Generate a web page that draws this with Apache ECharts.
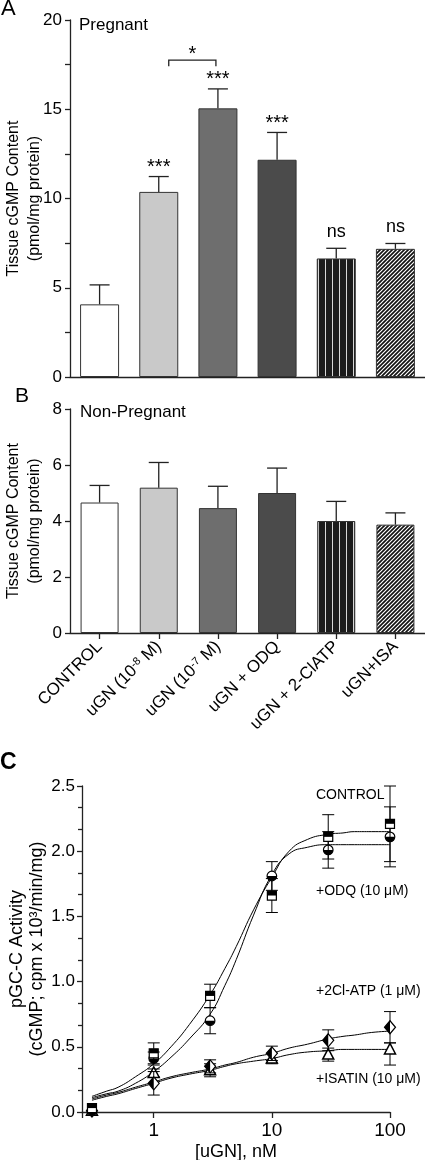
<!DOCTYPE html>
<html><head><meta charset="utf-8">
<script src="https://cdn.jsdelivr.net/npm/echarts@6/dist/echarts.min.js"></script>
<style>html,body{margin:0;padding:0;background:#fff}#c{width:425px;height:1160px}</style>
</head><body><div id="c"></div>
<script>
// ---------- DATA ----------
const categories = ['CONTROL', 'uGN (10{sup|-8} M)', 'uGN (10{sup|-7} M)', 'uGN + ODQ', 'uGN + 2-ClATP', 'uGN+ISA'];
const pregnantMean = [4.07, 10.37, 15.05, 12.17, 6.64, 7.18];
const pregnantSem  = [1.09, 0.86, 1.09, 1.53, 0.57, 0.30];
const pregnantSig  = ['', '***', '***', '***', 'ns', 'ns'];
const pregnantBracket = [[1, 2, 17.75, '*']];
const nonPregMean  = [4.66, 5.19, 4.46, 5.00, 4.00, 3.87];
const nonPregSem   = [0.61, 0.90, 0.78, 0.89, 0.70, 0.42];

const doseNM = [0.3, 1, 3, 10, 30, 100];
const controlY    = [0.03, 0.45, 0.89, 1.66, 2.11, 2.21];
const controlErr  = [0, 0.08, 0.09, 0.13, 0.17, 0.29];
const odqY        = [0.01, 0.41, 0.70, 1.81, 2.01, 2.11];
const odqErr      = [0, 0.05, 0.10, 0.11, 0.14, 0.23];
const clatpY      = [0.01, 0.22, 0.35, 0.45, 0.55, 0.65];
const clatpErr    = [0, 0.09, 0.05, 0.055, 0.08, 0.12];
const isatinY     = [0.01, 0.30, 0.32, 0.41, 0.44, 0.48];
const isatinErrUp = [0, 0.03, 0.05, 0.04, 0.05, 0.05];
const isatinErrDn = [0, 0.03, 0.05, 0.04, 0.05, 0.12];

const curveX      = [0.3, 0.4, 0.5, 0.7, 1, 1.4, 2, 3, 4, 5, 7, 10, 14, 20, 30, 40, 50, 70, 100];
const controlFit  = [0.12, 0.16, 0.19, 0.27, 0.37, 0.50, 0.67, 0.90, 1.10, 1.27, 1.55, 1.80, 2.00, 2.09, 2.13, 2.14, 2.15, 2.15, 2.15];
const odqFit      = [0.11, 0.14, 0.16, 0.22, 0.31, 0.42, 0.56, 0.75, 0.97, 1.17, 1.51, 1.82, 1.98, 2.03, 2.05, 2.05, 2.05, 2.05, 2.05];
const clatpFit    = [0.10, 0.13, 0.15, 0.19, 0.23, 0.27, 0.30, 0.33, 0.36, 0.38, 0.42, 0.45, 0.49, 0.52, 0.56, 0.58, 0.59, 0.61, 0.62];
const isatinFit   = [0.09, 0.12, 0.14, 0.18, 0.22, 0.26, 0.29, 0.32, 0.35, 0.37, 0.39, 0.41, 0.44, 0.46, 0.47, 0.48, 0.48, 0.48, 0.48];

const xTicksC = [1, 10, 100];

// ---------- STYLE ----------
const FONT = '"Liberation Sans", Arial, sans-serif';
const AX = '#222';
function makeStripe() {
  const c = document.createElement('canvas'); c.width = 7; c.height = 8;
  const g = c.getContext('2d'); g.fillStyle = '#1c1c1c'; g.fillRect(0, 0, 7, 8);
  g.fillStyle = '#d8d8d8'; g.fillRect(3, 0, 1, 8); return c;
}
function makeHatch() {
  const c = document.createElement('canvas'); c.width = 4; c.height = 4;
  const g = c.getContext('2d'); g.fillStyle = '#111'; g.fillRect(0, 0, 4, 4);
  g.strokeStyle = '#fff'; g.lineWidth = 1.2; g.beginPath();
  g.moveTo(-1, 5); g.lineTo(5, -1); g.moveTo(-1, 1); g.lineTo(1, -1); g.moveTo(3, 5); g.lineTo(5, 3);
  g.stroke(); return c;
}
const barFills = ['#ffffff', '#c9c9c9', '#6e6e6e', '#4b4b4b', {image: makeStripe(), repeat: 'repeat'}, {image: makeHatch(), repeat: 'repeat'}];

function barData(vals) {
  return vals.map((v, i) => ({value: v, itemStyle: {color: barFills[i], borderColor: '#333', borderWidth: 1}}));
}
function errData(vals, errs) { return vals.map((v, i) => [i, v, errs[i]]); }

function barErrRender(labels) {
  return function (params, api) {
    const i = api.value(0), v = api.value(1), e = api.value(2);
    const p0 = api.coord([i, v]), p1 = api.coord([i, v + e]);
    const st = {stroke: '#222', lineWidth: 1.3};
    const ch = [
      {type: 'line', shape: {x1: p0[0], y1: p0[1], x2: p1[0], y2: p1[1]}, style: st},
      {type: 'line', shape: {x1: p1[0] - 10, y1: p1[1], x2: p1[0] + 10, y2: p1[1]}, style: st}
    ];
    const t = labels ? labels[params.dataIndex] : '';
    if (t) {
      const isStar = t.indexOf('*') >= 0;
      ch.push({type: 'text', style: {x: p1[0], y: p1[1] + (isStar ? 1 : -7), text: t,
        fontSize: isStar ? 20 : 18, fontFamily: FONT, fill: '#000', align: 'center', verticalAlign: 'bottom', lineHeight: isStar ? 20 : 18}});
    }
    return {type: 'group', children: ch};
  };
}
function bracketRender(params, api) {
  const a = api.coord([api.value(0), api.value(2)]), b = api.coord([api.value(1), api.value(2)]);
  const x1 = a[0] + 10, x2 = b[0] - 2, y = a[1];
  return {type: 'group', children: [
    {type: 'polyline', shape: {points: [[x1, y + 6], [x1, y], [x2, y], [x2, y + 6]]}, style: {stroke: '#222', lineWidth: 1.3, fill: null}},
    {type: 'text', style: {x: (x1 + x2) / 2, y: y + 4, text: pregnantBracket[params.dataIndex][3], fontSize: 20, lineHeight: 20,
      fontFamily: FONT, fill: '#000', align: 'center', verticalAlign: 'bottom'}}
  ]};
}

function ptData(ys, up, dn) { return doseNM.map((x, i) => [x, ys[i], up[i], dn[i]]); }
function markerRender(kind) {
  return function (params, api) {
    const x = api.value(0), y = api.value(1), eu = api.value(2), ed = api.value(3);
    const p = api.coord([x, y]);
    const ch = [];
    const st = {stroke: '#000', lineWidth: 1};
    if (eu > 0 || ed > 0) {
      const pu = api.coord([x, y + eu]), pd = api.coord([x, y - ed]);
      ch.push({type: 'line', shape: {x1: p[0], y1: pu[1], x2: p[0], y2: pd[1]}, style: st});
      ch.push({type: 'line', shape: {x1: p[0] - 6, y1: pu[1], x2: p[0] + 6, y2: pu[1]}, style: st});
      ch.push({type: 'line', shape: {x1: p[0] - 6, y1: pd[1], x2: p[0] + 6, y2: pd[1]}, style: st});
    }
    const cx = p[0], cy = p[1];
    const open = {fill: '#fff', stroke: '#000', lineWidth: 1.2};
    const full = {fill: '#000'};
    if (kind === 'square') {
      ch.push({type: 'rect', shape: {x: cx - 4.5, y: cy - 4.5, width: 9, height: 9}, style: open});
      ch.push({type: 'rect', shape: {x: cx - 4.5, y: cy - 4.5, width: 9, height: 4.5}, style: full});
    } else if (kind === 'circle') {
      ch.push({type: 'circle', shape: {cx: cx, cy: cy, r: 4.8}, style: open});
      ch.push({type: 'sector', shape: {cx: cx, cy: cy, r0: 0, r: 4.8, startAngle: 0, endAngle: Math.PI, clockwise: true}, style: full});
    } else if (kind === 'diamond') {
      ch.push({type: 'polygon', shape: {points: [[cx, cy - 6.5], [cx + 5.5, cy], [cx, cy + 6.5], [cx - 5.5, cy]]}, style: open});
      ch.push({type: 'polygon', shape: {points: [[cx, cy - 6.5], [cx, cy + 6.5], [cx - 5.5, cy]]}, style: full});
    } else {
      ch.push({type: 'polygon', shape: {points: [[cx, cy - 6], [cx + 5.5, cy + 4.5], [cx - 5.5, cy + 4.5]]}, style: {fill: '#fff', stroke: '#000', lineWidth: 1.5}});
    }
    return {type: 'group', children: ch};
  };
}
function fitSeries(ys) {
  return {type: 'line', xAxisIndex: 2, yAxisIndex: 2, data: curveX.map((x, i) => [x, ys[i]]), smooth: 0.5,
    showSymbol: false, symbol: 'none', lineStyle: {color: '#000', width: 1}, silent: true, z: 2};
}

const labelStyle = {color: '#000', fontFamily: FONT, fontSize: 17};
const nameStyle = {color: '#000', fontFamily: FONT, fontSize: 16, lineHeight: 21};

const option = {
  animation: false,
  backgroundColor: '#fff',
  textStyle: {fontFamily: FONT},
  grid: [
    {left: 70, top: 20, width: 355, height: 357, outerBoundsMode: 'none', containLabel: false},
    {left: 70, top: 409, width: 355, height: 224, outerBoundsMode: 'none', containLabel: false},
    {left: 82, top: 786, width: 308, height: 326, outerBoundsMode: 'none', containLabel: false}
  ],
  xAxis: [
    {type: 'category', gridIndex: 0, data: categories, axisLine: {lineStyle: {color: AX, width: 1.3}},
      axisTick: {show: false}, axisLabel: {show: false}},
    {type: 'category', gridIndex: 1, data: categories, axisLine: {lineStyle: {color: AX, width: 1.3}},
      axisTick: {show: true, alignWithLabel: true, length: 6, lineStyle: {color: AX, width: 1.3}},
      axisLabel: {rotate: 45, interval: 0, margin: 11, color: '#000', fontFamily: FONT, fontSize: 17,
        rich: {sup: {fontSize: 11, verticalAlign: 'top', lineHeight: 12, fontFamily: FONT, color: '#000'}}}},
    {type: 'log', logBase: 10, gridIndex: 2, min: 0.247, max: 100,
      axisLine: {lineStyle: {color: AX, width: 1.3}},
      axisTick: {length: 6, lineStyle: {color: AX, width: 1.3}},
      splitLine: {show: false}, minorTick: {show: false},
      axisLabel: {color: '#000', fontFamily: FONT, fontSize: 19, margin: 9,
        formatter: v => { const r = Math.round(v * 1000) / 1000; return xTicksC.indexOf(r) >= 0 ? String(r) : ''; }},
      name: '[uGN], nM', nameLocation: 'middle', nameGap: 31, nameMoveOverlap: false,
      nameTextStyle: {color: '#000', fontFamily: FONT, fontSize: 18}}
  ],
  yAxis: [
    {type: 'value', gridIndex: 0, min: 0, max: 20, interval: 5,
      axisLine: {show: true, lineStyle: {color: AX, width: 1.3}},
      axisTick: {show: true, length: 5, lineStyle: {color: AX, width: 1.3}},
      minorTick: {show: true, splitNumber: 2, length: 5, lineStyle: {color: AX, width: 1.3}},
      splitLine: {show: false}, axisLabel: Object.assign({margin: 8}, labelStyle),
      name: 'Tissue cGMP Content\n(pmol/mg protein)', nameLocation: 'middle', nameGap: 25, nameMoveOverlap: false, nameTextStyle: nameStyle},
    {type: 'value', gridIndex: 1, min: 0, max: 8, interval: 2,
      axisLine: {show: true, lineStyle: {color: AX, width: 1.3}},
      axisTick: {show: true, length: 5, lineStyle: {color: AX, width: 1.3}},
      splitLine: {show: false}, axisLabel: Object.assign({margin: 8}, labelStyle),
      name: 'Tissue cGMP Content\n(pmol/mg protein)', nameLocation: 'middle', nameGap: 25, nameMoveOverlap: false, nameTextStyle: nameStyle},
    {type: 'value', gridIndex: 2, min: 0, max: 2.5, interval: 0.5,
      axisLine: {show: true, lineStyle: {color: AX, width: 1.3}},
      axisTick: {show: true, length: 5, lineStyle: {color: AX, width: 1.3}},
      minorTick: {show: true, splitNumber: 3, length: 4, lineStyle: {color: AX, width: 1.3}},
      splitLine: {show: false},
      axisLabel: Object.assign({margin: 7, formatter: v => v.toFixed(1)}, labelStyle),
      name: 'pGC-C Activity\n(cGMP; cpm x 10³/min/mg)', nameLocation: 'middle', nameGap: 35, nameMoveOverlap: false,
      nameTextStyle: {color: '#000', fontFamily: FONT, fontSize: 18, lineHeight: 20}}
  ],
  series: [
    {type: 'bar', xAxisIndex: 0, yAxisIndex: 0, data: barData(pregnantMean), barWidth: 39, z: 2},
    {type: 'custom', xAxisIndex: 0, yAxisIndex: 0, data: errData(pregnantMean, pregnantSem), renderItem: barErrRender(pregnantSig), clip: false, z: 3},
    {type: 'custom', xAxisIndex: 0, yAxisIndex: 0, data: pregnantBracket.map(d => [d[0], d[1], d[2]]), renderItem: bracketRender, clip: false, z: 3,
      encode: {x: 0, y: 2}},
    {type: 'bar', xAxisIndex: 1, yAxisIndex: 1, data: barData(nonPregMean), barWidth: 38, z: 2},
    {type: 'custom', xAxisIndex: 1, yAxisIndex: 1, data: errData(nonPregMean, nonPregSem), renderItem: barErrRender(null), clip: false, z: 3},
    fitSeries(controlFit), fitSeries(odqFit), fitSeries(clatpFit), fitSeries(isatinFit),
    {type: 'custom', xAxisIndex: 2, yAxisIndex: 2, data: ptData(isatinY, isatinErrUp, isatinErrDn), renderItem: markerRender('triangle'), clip: false, z: 4},
    {type: 'custom', xAxisIndex: 2, yAxisIndex: 2, data: ptData(clatpY, clatpErr, clatpErr), renderItem: markerRender('diamond'), clip: false, z: 4},
    {type: 'custom', xAxisIndex: 2, yAxisIndex: 2, data: ptData(odqY, odqErr, odqErr), renderItem: markerRender('circle'), clip: false, z: 4},
    {type: 'custom', xAxisIndex: 2, yAxisIndex: 2, data: ptData(controlY, controlErr, controlErr), renderItem: markerRender('square'), clip: false, z: 4}
  ],
  graphic: [
    {type: 'text', left: 1, top: -2, style: {text: 'A', fontSize: 22, fontFamily: FONT, fill: '#000'}},
    {type: 'text', left: 79, top: 17, style: {text: 'Pregnant', fontSize: 17, fontFamily: FONT, fill: '#000'}},
    {type: 'text', left: 15, top: 386, style: {text: 'B', fontSize: 21, fontFamily: FONT, fill: '#000'}},
    {type: 'text', left: 80, top: 404, style: {text: 'Non-Pregnant', fontSize: 17, fontFamily: FONT, fill: '#000'}},
    {type: 'text', left: 0, top: 751, style: {text: 'C', fontSize: 23, fontWeight: 'bold', fontFamily: FONT, fill: '#000'}},
    {type: 'text', left: 316, top: 788, style: {text: 'CONTROL', fontSize: 14, fontFamily: FONT, fill: '#000'}},
    {type: 'text', left: 316, top: 884, style: {text: '+ODQ (10 μM)', fontSize: 14, fontFamily: FONT, fill: '#000'}},
    {type: 'text', left: 316, top: 984, style: {text: '+2Cl-ATP (1 μM)', fontSize: 14, fontFamily: FONT, fill: '#000'}},
    {type: 'text', left: 316, top: 1072, style: {text: '+ISATIN (10 μM)', fontSize: 14, fontFamily: FONT, fill: '#000'}}
  ]
};
const chart = echarts.init(document.getElementById('c'), null, {renderer: 'canvas', width: 425, height: 1160});
chart.setOption(option);
</script>
</body></html>
